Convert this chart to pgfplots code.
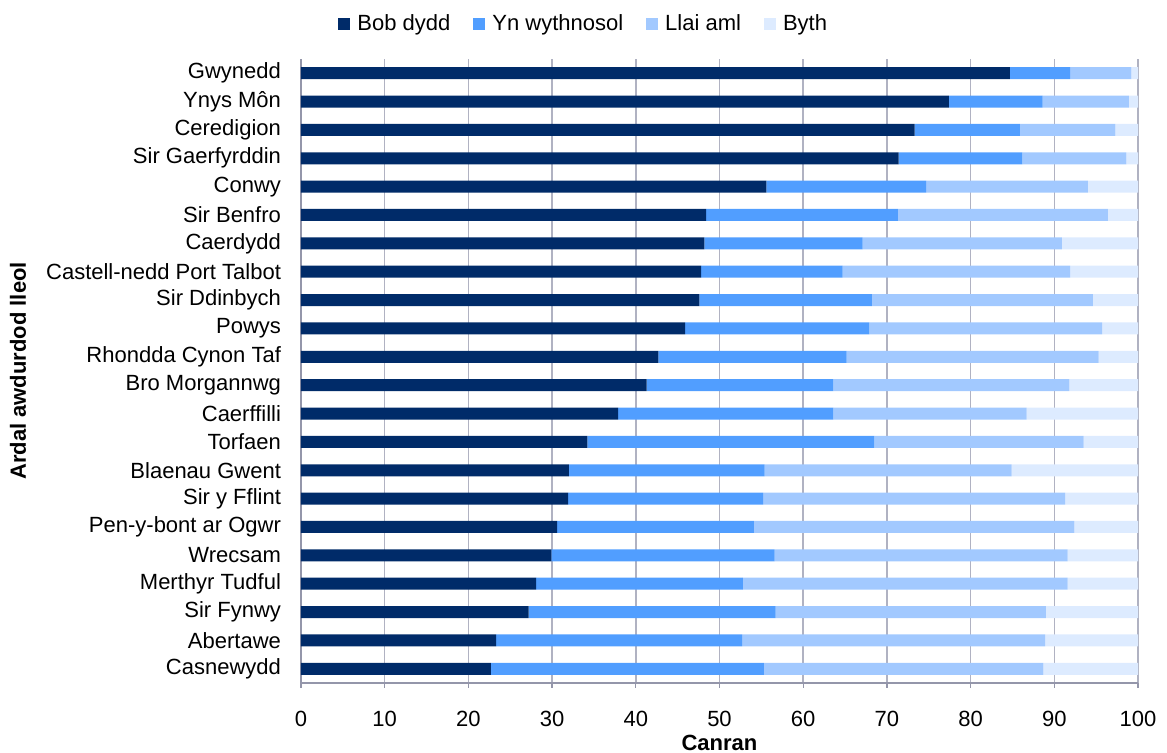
\documentclass[border=0pt]{standalone}
\usepackage{pgfplots}
\pgfplotsset{compat=1.18}
\usepackage{pgfplotstable}
\usepackage{fontspec}
\setmainfont{Liberation Sans}

\definecolor{cDaily}{HTML}{002B69}
\definecolor{cWeekly}{HTML}{519EFF}
\definecolor{cLess}{HTML}{A2C9FF}
\definecolor{cNever}{HTML}{DDEBFF}
\definecolor{gridgray}{HTML}{B0B2C2}
\definecolor{axisgray}{HTML}{9496AA}

% Percentage of respondents by frequency, per local authority (bottom row first)
\pgfplotstableread{
y daily weekly less never
0  22.7 32.6 33.4 11.3
1  23.3 29.4 36.2 11.1
2  27.2 29.5 32.3 11.0
3  28.1 24.7 38.8 8.4
4  29.9 26.7 35.0 8.4
5  30.6 23.5 38.3 7.6
6  31.9 23.3 36.1 8.7
7  32.0 23.4 29.5 15.1
8  34.2 34.3 25.0 6.5
9  37.9 25.7 23.1 13.3
10 41.3 22.3 28.2 8.2
11 42.7 22.5 30.1 4.7
12 45.9 22.0 27.8 4.3
13 47.6 20.6 26.4 5.4
14 47.8 16.9 27.2 8.1
15 48.2 18.9 23.8 9.1
16 48.4 22.9 25.1 3.6
17 55.6 19.1 19.3 6.0
18 71.4 14.8 12.4 1.4
19 73.3 12.6 11.4 2.7
20 77.4 11.2 10.3 1.1
21 84.7 7.2 7.3 0.8
}\data

\begin{document}
\begin{tikzpicture}[font=\fontsize{11}{13}\selectfont]
\begin{axis}[
  name=ax,
  scale only axis,
  width=418.5pt, height=312pt,
  xbar stacked,
  bar width=6pt,
  xmin=0, xmax=100,
  ymin=-0.5, ymax=21.5,
  axis x line*=bottom,
  axis y line*=left,
  axis line style={axisgray, line width=0.6pt},
  xtick={0,10,...,100},
  xmajorgrids,
  grid style={gridgray, line width=0.8pt},
  ytick={0,...,21},
  yticklabels={Casnewydd,Abertawe,Sir Fynwy,Merthyr Tudful,Wrecsam,Pen-y-bont ar Ogwr,Sir y Fflint,Blaenau Gwent,Torfaen,Caerffilli,Bro Morgannwg,Rhondda Cynon Taf,Powys,Sir Ddinbych,Castell-nedd Port Talbot,Caerdydd,Sir Benfro,Conwy,Sir Gaerfyrddin,Ceredigion,Ynys Môn,Gwynedd},
  minor ytick={-0.5,0.5,...,21.5},
  major tick length=2.5pt,
  tick align=outside,
  ytick style={draw=none},
  minor tick style={axisgray, line width=0.6pt},
  xtick style={axisgray, line width=0.6pt},
  yticklabel style={xshift=-4pt},
  xticklabel style={yshift=-8pt},
  /pgf/number format/assume math mode=true,
  xlabel={\bfseries Canran},
  ylabel={\bfseries Ardal awdurdod lleol},
  xlabel style={at={(axis description cs:0.5,-0.096)}, anchor=center},
  ylabel style={at={(axis description cs:-0.338,0.5)}, anchor=center, rotate=0},
  legend columns=4,
  legend style={draw=none, fill=none, at={(axis description cs:0.339,1.056)}, anchor=center,
    /tikz/every even column/.append style={column sep=9.5pt},
    /tikz/every odd column/.append style={column sep=1.5pt}},
  legend image code/.code={\fill[#1] (0pt,-3pt) rectangle (6pt,3pt);},
]
\addplot[fill=cDaily, draw=none] table[x=daily, y=y] {\data};
\addplot[fill=cWeekly, draw=none] table[x=weekly, y=y] {\data};
\addplot[fill=cLess, draw=none] table[x=less, y=y] {\data};
\addplot[fill=cNever, draw=none] table[x=never, y=y] {\data};
\legend{Bob dydd, Yn wythnosol, Llai aml, Byth}
\end{axis}
\pgfresetboundingbox
\path[use as bounding box] ([shift={(-150.5pt,-35pt)}]ax.south west) rectangle ([shift={(14.5pt,29.5pt)}]ax.north east);
\end{tikzpicture}
\end{document}
